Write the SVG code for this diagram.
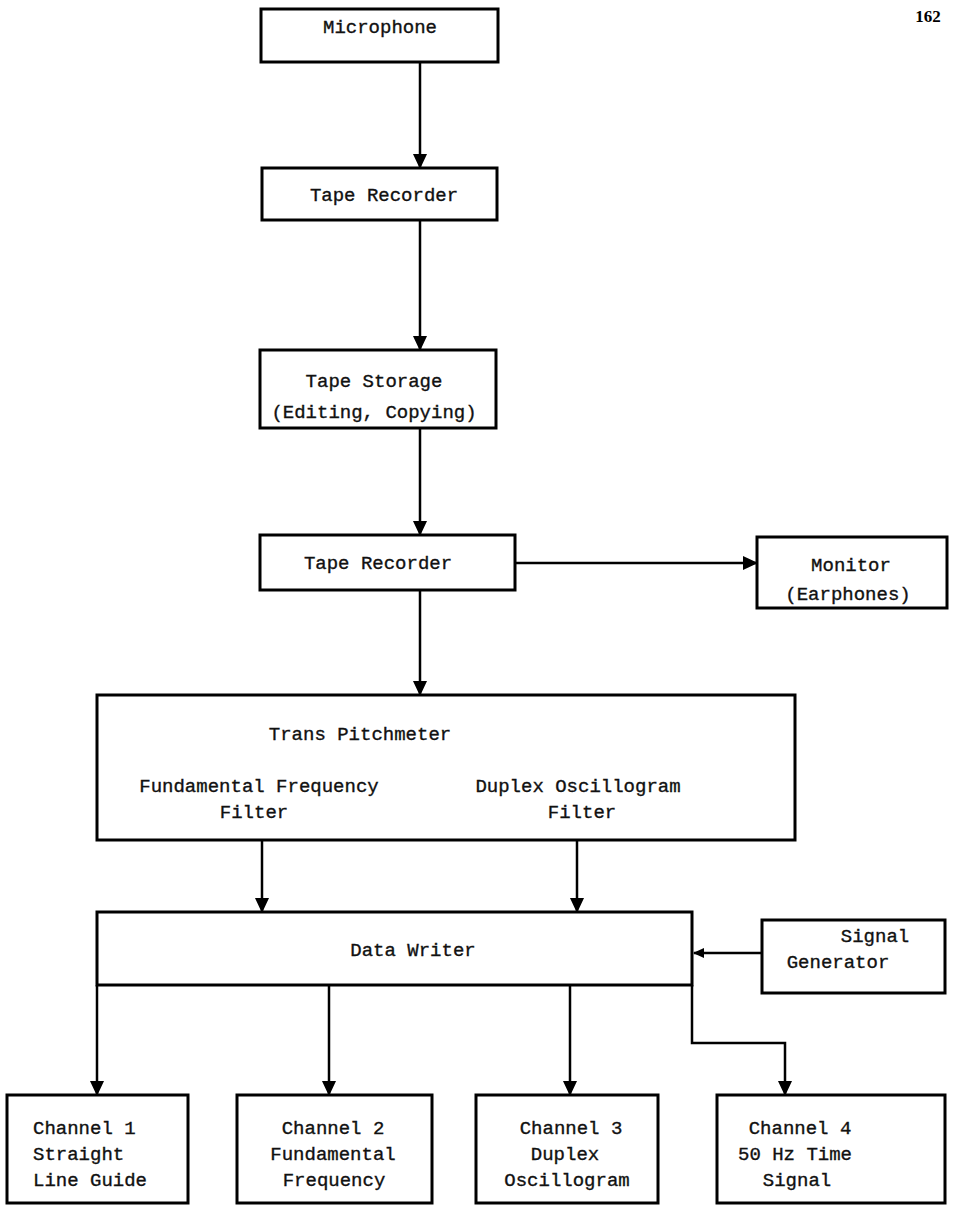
<svg xmlns="http://www.w3.org/2000/svg" width="955" height="1208" viewBox="0 0 955 1208">
<defs>
<marker id="ah" markerWidth="16" markerHeight="16" refX="14" refY="7" orient="auto" markerUnits="userSpaceOnUse">
<path d="M0,0 L15,7 L0,14 Z" fill="#000"/>
</marker>
<marker id="ahs" markerWidth="12" markerHeight="12" refX="10" refY="5" orient="auto" markerUnits="userSpaceOnUse">
<path d="M0,0 L11,5 L0,10 Z" fill="#000"/>
</marker>
<style>
.box{fill:#fff;stroke:#000;stroke-width:3}
.t{font-family:"Liberation Mono","Courier New",monospace;font-size:19px;fill:#111;stroke:#111;stroke-width:0.35;text-anchor:middle}
.l{text-anchor:start}
.c{fill:none;stroke:#000;stroke-width:2.5}
</style>
</defs>
<rect width="955" height="1208" fill="#fff"/>
<text x="928" y="22" font-family="Liberation Serif, serif" font-size="17" font-weight="bold" text-anchor="middle">162</text>

<g id="connectors">
<path class="c" d="M420,62 V168" marker-end="url(#ah)"/>
<path class="c" d="M420,220 V350" marker-end="url(#ah)"/>
<path class="c" d="M420,428 V535" marker-end="url(#ah)"/>
<path class="c" d="M515,563 H757" marker-end="url(#ah)"/>
<path class="c" d="M420,590 V695" marker-end="url(#ah)"/>
<path class="c" d="M262,840 V912" marker-end="url(#ah)"/>
<path class="c" d="M577,840 V912" marker-end="url(#ah)"/>
<path class="c" d="M762,953 H694" marker-end="url(#ahs)"/>
<path class="c" d="M97,985 V1095" marker-end="url(#ah)"/>
<path class="c" d="M329,985 V1095" marker-end="url(#ah)"/>
<path class="c" d="M570,985 V1095" marker-end="url(#ah)"/>
<path class="c" d="M692,985 V1043 H785 V1095" marker-end="url(#ah)"/>
</g>

<g id="microphone"><rect class="box" x="261" y="9" width="237" height="53"/><text class="t" x="380" y="33">Microphone</text></g>
<g id="tape-recorder-1"><rect class="box" x="262" y="168" width="235" height="52"/><text class="t" x="384" y="201">Tape Recorder</text></g>
<g id="tape-storage"><rect class="box" x="260" y="350" width="236" height="78"/><text class="t" x="374" y="387">Tape Storage</text><text class="t" x="374" y="418">(Editing, Copying)</text></g>
<g id="tape-recorder-2"><rect class="box" x="260" y="535" width="255" height="55"/><text class="t" x="378" y="569">Tape Recorder</text></g>
<g id="monitor"><rect class="box" x="757" y="537" width="190" height="71"/><text class="t" x="851" y="571">Monitor</text><text class="t" x="848" y="600">(Earphones)</text></g>
<g id="trans-pitchmeter"><rect class="box" x="97" y="695" width="698" height="145"/>
<text class="t" x="360" y="740">Trans Pitchmeter</text>
<text class="t" x="259" y="792">Fundamental Frequency</text>
<text class="t" x="254" y="818">Filter</text>
<text class="t" x="578" y="792">Duplex Oscillogram</text>
<text class="t" x="582" y="818">Filter</text></g>
<g id="data-writer"><rect class="box" x="97" y="912" width="595" height="73"/><text class="t" x="413" y="956">Data Writer</text></g>
<g id="signal-generator"><rect class="box" x="762" y="920" width="183" height="73"/><text class="t" x="875" y="942">Signal</text><text class="t" x="838" y="968">Generator</text></g>
<g id="channel-1"><rect class="box" x="7" y="1095" width="181" height="108"/><text class="t l" x="33" y="1134">Channel 1</text><text class="t l" x="33" y="1160">Straight</text><text class="t l" x="33" y="1186">Line Guide</text></g>
<g id="channel-2"><rect class="box" x="237" y="1095" width="195" height="108"/><text class="t" x="333" y="1134">Channel 2</text><text class="t" x="333" y="1160">Fundamental</text><text class="t" x="334" y="1186">Frequency</text></g>
<g id="channel-3"><rect class="box" x="476" y="1095" width="182" height="108"/><text class="t" x="571" y="1134">Channel 3</text><text class="t" x="565" y="1160">Duplex</text><text class="t" x="567" y="1186">Oscillogram</text></g>
<g id="channel-4"><rect class="box" x="717" y="1095" width="228" height="108"/><text class="t" x="800" y="1134">Channel 4</text><text class="t" x="795" y="1160">50 Hz Time</text><text class="t" x="797" y="1186">Signal</text></g>
</svg>
